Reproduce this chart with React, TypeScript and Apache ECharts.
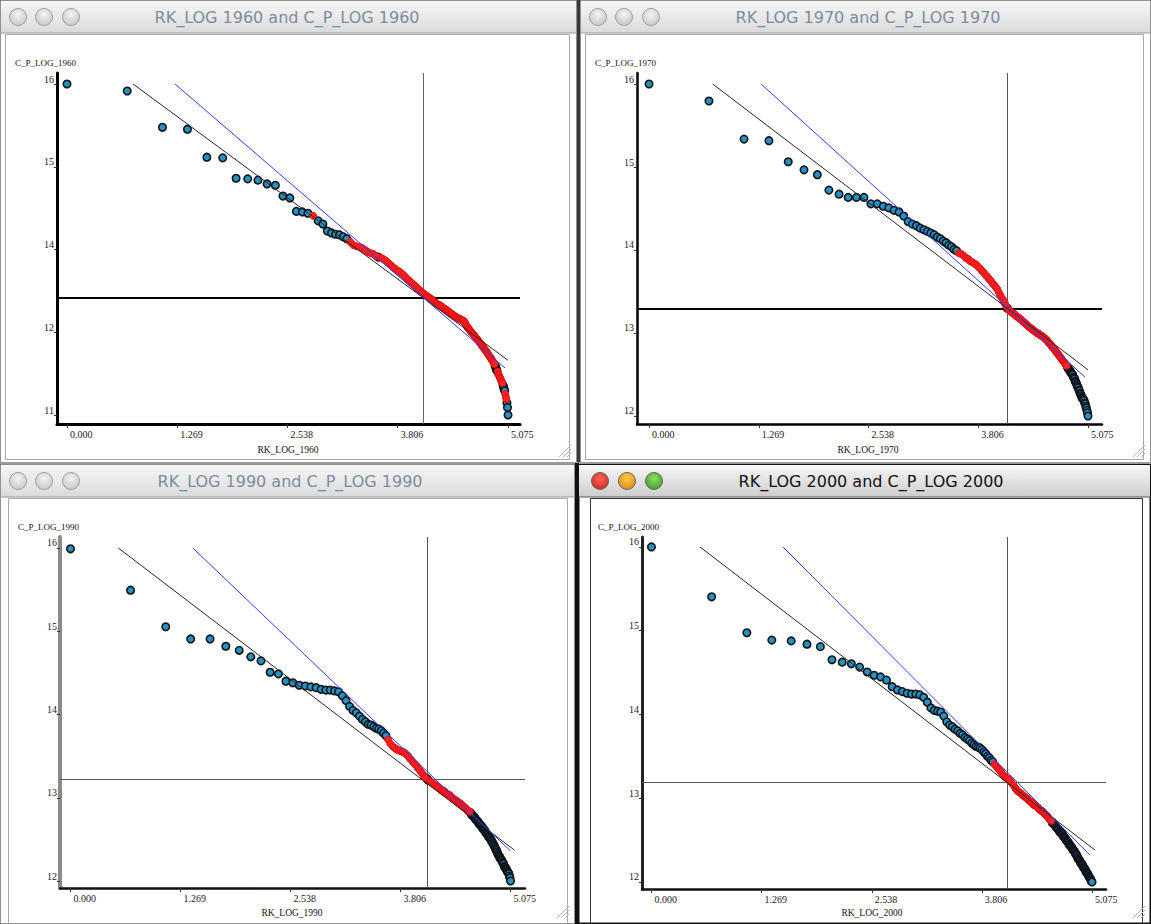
import React, { useEffect, useRef } from "react";
import * as echarts from "echarts";

// ---------- DATA ----------
// C_P_LOG values by city rank (rank 1..160); RK_LOG = ln(rank)
const cpLog1960 = [
  16.15, 16.04, 15.47, 15.44, 15.0, 14.99, 14.67, 14.66, 14.64, 14.58,
  14.56, 14.39, 14.36, 14.15, 14.14, 14.12, 14.08, 14.0, 13.95, 13.84,
  13.81, 13.79, 13.78, 13.75, 13.72, 13.67, 13.62, 13.6, 13.59, 13.57,
  13.54, 13.51, 13.49, 13.48, 13.45, 13.43, 13.42, 13.4, 13.38, 13.35,
  13.32, 13.29, 13.26, 13.24, 13.21, 13.2, 13.17, 13.15, 13.12, 13.09,
  13.07, 13.04, 13.02, 12.99, 12.98, 12.94, 12.93, 12.91, 12.88, 12.87,
  12.85, 12.83, 12.82, 12.8, 12.79, 12.77, 12.76, 12.74, 12.72, 12.71,
  12.69, 12.68, 12.67, 12.66, 12.65, 12.63, 12.62, 12.61, 12.6, 12.58,
  12.57, 12.55, 12.54, 12.54, 12.52, 12.51, 12.5, 12.49, 12.48, 12.47,
  12.46, 12.46, 12.45, 12.44, 12.43, 12.43, 12.41, 12.39, 12.36, 12.33,
  12.32, 12.3, 12.28, 12.27, 12.25, 12.24, 12.22, 12.21, 12.19, 12.17,
  12.16, 12.14, 12.13, 12.11, 12.1, 12.08, 12.07, 12.05, 12.03, 12.02,
  12.0, 11.99, 11.97, 11.96, 11.94, 11.93, 11.91, 11.89, 11.88, 11.86,
  11.85, 11.83, 11.81, 11.8, 11.78, 11.77, 11.75, 11.72, 11.7, 11.67,
  11.64, 11.63, 11.59, 11.58, 11.55, 11.53, 11.52, 11.48, 11.47, 11.45,
  11.42, 11.39, 11.36, 11.33, 11.28, 11.23, 11.2, 11.14, 11.07, 10.95,
];
const cpLog1970 = [
  16.05, 15.84, 15.37, 15.35, 15.09, 14.99, 14.93, 14.74, 14.69, 14.65,
  14.65, 14.65, 14.57, 14.57, 14.54, 14.52, 14.49, 14.47, 14.42, 14.35,
  14.32, 14.3, 14.27, 14.25, 14.23, 14.21, 14.19, 14.16, 14.14, 14.11,
  14.09, 14.06, 14.04, 14.01, 13.99, 13.96, 13.95, 13.93, 13.9, 13.89,
  13.86, 13.85, 13.83, 13.82, 13.79, 13.77, 13.74, 13.72, 13.69, 13.67,
  13.64, 13.62, 13.59, 13.57, 13.54, 13.52, 13.48, 13.44, 13.41, 13.38,
  13.35, 13.31, 13.28, 13.26, 13.25, 13.23, 13.22, 13.21, 13.2, 13.18,
  13.17, 13.16, 13.15, 13.14, 13.12, 13.11, 13.1, 13.09, 13.07, 13.06,
  13.05, 13.04, 13.03, 13.02, 13.01, 13.0, 12.99, 12.98, 12.97, 12.97,
  12.96, 12.95, 12.94, 12.94, 12.93, 12.92, 12.91, 12.9, 12.89, 12.88,
  12.86, 12.85, 12.84, 12.83, 12.81, 12.8, 12.79, 12.78, 12.77, 12.75,
  12.74, 12.73, 12.72, 12.7, 12.69, 12.68, 12.67, 12.65, 12.64, 12.63,
  12.62, 12.61, 12.59, 12.58, 12.57, 12.56, 12.54, 12.53, 12.52, 12.51,
  12.49, 12.48, 12.47, 12.46, 12.43, 12.42, 12.41, 12.38, 12.37, 12.35,
  12.33, 12.31, 12.3, 12.27, 12.26, 12.23, 12.22, 12.2, 12.18, 12.17,
  12.16, 12.15, 12.14, 12.11, 12.1, 12.07, 12.05, 12.02, 11.99, 11.95,
];
const cpLog1990 = [
  16.04, 15.53, 15.08, 14.93, 14.93, 14.84, 14.79, 14.71, 14.66, 14.52,
  14.5, 14.41, 14.39, 14.36, 14.35, 14.34, 14.33, 14.31, 14.3, 14.3,
  14.29, 14.28, 14.23, 14.17, 14.1, 14.05, 14.02, 13.98, 13.94, 13.91,
  13.88, 13.87, 13.85, 13.83, 13.82, 13.8, 13.77, 13.74, 13.69, 13.64,
  13.61, 13.59, 13.57, 13.56, 13.55, 13.54, 13.53, 13.51, 13.49, 13.46,
  13.44, 13.41, 13.39, 13.37, 13.34, 13.32, 13.29, 13.27, 13.24, 13.22,
  13.21, 13.19, 13.18, 13.17, 13.16, 13.14, 13.13, 13.12, 13.11, 13.1,
  13.08, 13.07, 13.06, 13.06, 13.05, 13.03, 13.02, 13.01, 13.01, 13.0,
  12.98, 12.97, 12.96, 12.95, 12.94, 12.94, 12.92, 12.91, 12.91, 12.9,
  12.89, 12.87, 12.87, 12.86, 12.85, 12.84, 12.82, 12.81, 12.81, 12.8,
  12.79, 12.77, 12.76, 12.75, 12.74, 12.73, 12.71, 12.7, 12.69, 12.68,
  12.66, 12.65, 12.64, 12.63, 12.62, 12.6, 12.59, 12.58, 12.57, 12.55,
  12.54, 12.53, 12.52, 12.5, 12.49, 12.48, 12.47, 12.45, 12.44, 12.42,
  12.41, 12.39, 12.38, 12.36, 12.34, 12.33, 12.31, 12.29, 12.27, 12.26,
  12.25, 12.23, 12.22, 12.21, 12.2, 12.18, 12.17, 12.16, 12.13, 12.12,
  12.11, 12.1, 12.09, 12.07, 12.06, 12.05, 12.04, 12.01, 11.99, 11.95,
];
const cpLog2000 = [
  16.05, 15.44, 15.0, 14.91, 14.9, 14.86, 14.83, 14.67, 14.64, 14.62,
  14.58, 14.52, 14.48, 14.46, 14.42, 14.34, 14.3, 14.28, 14.26, 14.25,
  14.25, 14.24, 14.21, 14.15, 14.08, 14.05, 14.04, 14.03, 13.98, 13.91,
  13.87, 13.85, 13.82, 13.8, 13.77, 13.75, 13.72, 13.7, 13.68, 13.65,
  13.63, 13.61, 13.6, 13.59, 13.57, 13.54, 13.52, 13.49, 13.47, 13.44,
  13.42, 13.39, 13.37, 13.34, 13.32, 13.3, 13.27, 13.25, 13.23, 13.22,
  13.21, 13.2, 13.17, 13.15, 13.13, 13.1, 13.08, 13.06, 13.05, 13.04,
  13.03, 13.01, 13.0, 12.99, 12.98, 12.97, 12.95, 12.94, 12.93, 12.92,
  12.9, 12.89, 12.89, 12.88, 12.87, 12.86, 12.84, 12.83, 12.82, 12.82,
  12.81, 12.79, 12.78, 12.77, 12.76, 12.75, 12.73, 12.72, 12.71, 12.7,
  12.68, 12.67, 12.66, 12.65, 12.64, 12.62, 12.61, 12.6, 12.59, 12.57,
  12.56, 12.55, 12.54, 12.53, 12.51, 12.5, 12.49, 12.48, 12.46, 12.45,
  12.44, 12.43, 12.41, 12.4, 12.39, 12.38, 12.37, 12.35, 12.34, 12.33,
  12.32, 12.3, 12.29, 12.28, 12.26, 12.24, 12.23, 12.22, 12.21, 12.19,
  12.18, 12.17, 12.16, 12.15, 12.13, 12.12, 12.11, 12.1, 12.08, 12.07,
  12.06, 12.05, 12.04, 12.02, 12.01, 12.0, 11.99, 11.97, 11.96, 11.95,
];

// highlighted (red) rank ranges
const selected1960 = [[17, 17], [26, 35], [37, 137], [142, 150], [155, 157]];
const selected1970 = [[36, 62], [64, 125]];
const selected1990 = [[39, 60], [63, 100]];
const selected2000 = [[52, 100]];

// regression lines: all points (black) and highlighted points (blue)
const fitAll1960 = [[0.76, 16.15], [5.075, 11.81]];
const fitSel1960 = [[1.243, 16.15], [5.04, 11.69]];
const fitAll1970 = [[0.736, 16.05], [5.075, 12.52]];
const fitSel1970 = [[1.295, 16.05], [5.04, 12.43]];
const fitAll1990 = [[0.551, 16.05], [5.12, 12.33]];
const fitSel1990 = [[1.41, 16.05], [5.075, 12.32]];
const fitAll2000 = [[0.559, 16.05], [5.11, 12.34]];
const fitSel2000 = [[1.515, 16.05], [5.05, 12.28]];

// cross-hair position (RK_LOG, C_P_LOG)
const crossX = [4.097, 4.139, 4.11, 4.096];
const crossY = [12.79, 13.28, 13.2, 13.17];

// tick values
const xTicks = [0, 1.269, 2.538, 3.806, 5.075];
const yTicks1960 = [10.95, 12.25, 13.55, 14.85, 16.15];
const yTicksLater = [11.95, 12.975, 14.0, 15.025, 16.05];

const years = ["1960", "1970", "1990", "2000"];

// ---------- LAYOUT / STYLE ----------
const panels = [
  {
    values: cpLog1960, sel: selected1960, fitAll: fitAll1960, fitSel: fitSel1960, yTicks: yTicks1960,
    grid: { left: 57, top: 73, width: 463, height: 351 }, xr: [-0.115, 5.213], yr: [10.809, 16.323],
    yAxisColor: "#000", yAxisW: 3, xAxisColor: "#000", xAxisW: 3, hColor: "#000", hW: 2, vColor: "#666", vW: 1,
    yName: [15, 63], xName: [288, 450],
  },
  {
    values: cpLog1970, sel: selected1970, fitAll: fitAll1970, fitSel: fitSel1970, yTicks: yTicksLater,
    grid: { left: 637, top: 73, width: 465, height: 351 }, xr: [-0.139, 5.237], yr: [11.851, 16.186],
    yAxisColor: "#000", yAxisW: 2.5, xAxisColor: "#000", xAxisW: 2.5, hColor: "#000", hW: 2, vColor: "#555", vW: 1,
    yName: [595, 63], xName: [868, 450],
  },
  {
    values: cpLog1990, sel: selected1990, fitAll: fitAll1990, fitSel: fitSel1990, yTicks: yTicksLater,
    grid: { left: 60, top: 537, width: 465, height: 351 }, xr: [-0.121, 5.242], yr: [11.864, 16.185],
    yAxisColor: "#8a8a8a", yAxisW: 4, xAxisColor: "#111", xAxisW: 2.5, hColor: "#555", hW: 1, vColor: "#555", vW: 1,
    yName: [18, 527], xName: [292, 913],
  },
  {
    values: cpLog2000, sel: selected2000, fitAll: fitAll2000, fitSel: fitSel2000, yTicks: yTicksLater,
    grid: { left: 642, top: 537, width: 464, height: 352 }, xr: [-0.109, 5.236], yr: [11.864, 16.172],
    yAxisColor: "#222", yAxisW: 3, xAxisColor: "#111", xAxisW: 2.5, hColor: "#555", hW: 1, vColor: "#555", vW: 1,
    yName: [598, 527], xName: [872, 913],
  },
];

const windows = [
  { x: 0, y: 0, w: 577, h: 463, tx: 287, active: false, frame: [5, 34, 564, 425] },
  { x: 580, y: 0, w: 571, h: 463, tx: 868, active: false, frame: [585, 34, 558, 425] },
  { x: 0, y: 464, w: 575, h: 460, tx: 290, active: false, frame: [8, 498, 559, 426] },
  { x: 578, y: 464, w: 573, h: 460, tx: 871, active: true, frame: [590, 498, 552, 426] },
];

const serif = "'Liberation Serif', 'DejaVu Serif', serif";

function inSel(rank: number, sel: number[][]) {
  return sel.some((r) => rank >= r[0] && rank <= r[1]);
}

function buildChrome() {
  const els: any[] = [];
  windows.forEach((w, i) => {
    const title = `RK_LOG ${years[i]} and C_P_LOG ${years[i]}`;
    els.push({
      type: "rect", z: 0,
      shape: { x: w.x, y: w.y, width: w.w, height: w.h },
      style: { fill: "#ffffff", stroke: w.active ? "#111" : "#6e6e6e", lineWidth: w.active ? 3 : 1.5 },
    });
    els.push({
      type: "rect", z: 1,
      shape: { x: w.x + 1, y: w.y + 1, width: w.w - 2, height: 32 },
      style: {
        fill: new echarts.graphic.LinearGradient(0, 0, 0, 1, [
          { offset: 0, color: "#f7f7f7" },
          { offset: 1, color: w.active ? "#cdcdcd" : "#dadada" },
        ]),
      },
    });
    els.push({
      type: "line", z: 2,
      shape: { x1: w.x, y1: w.y + 33, x2: w.x + w.w, y2: w.y + 33 },
      style: { stroke: w.active ? "#555" : "#9a9a9a", lineWidth: 1 },
    });
    const bx = w.active ? [w.x + 22, w.x + 49, w.x + 76] : [w.x + 18, w.x + 44, w.x + 71];
    const colors = w.active
      ? [["#ff6a5c", "#c8221a"], ["#ffc84a", "#d68a10"], ["#8ee06a", "#3c9a22"]]
      : [["#f4f4f4", "#c4c4c4"], ["#f4f4f4", "#c4c4c4"], ["#f4f4f4", "#c4c4c4"]];
    bx.forEach((cx, k) => {
      els.push({
        type: "circle", z: 2,
        shape: { cx, cy: w.y + 17, r: 8.5 },
        style: {
          fill: new echarts.graphic.RadialGradient(0.5, 0.35, 0.7, [
            { offset: 0, color: colors[k][0] },
            { offset: 1, color: colors[k][1] },
          ]),
          stroke: w.active ? "#6a6a6a" : "#a0a0a0",
          lineWidth: 1,
        },
      });
    });
    els.push({
      type: "text", z: 3, x: w.tx, y: w.y + 17,
      style: {
        text: title, fill: w.active ? "#111" : "#7d8da0",
        font: "16px 'DejaVu Sans', sans-serif", textAlign: "center", textVerticalAlign: "middle",
      },
    });
    els.push({
      type: "rect", z: 1,
      shape: { x: w.frame[0] + 0.5, y: w.frame[1] + 0.5, width: w.frame[2], height: w.frame[3] },
      style: { fill: "none", stroke: w.active ? "#333" : "#a8a8a8", lineWidth: 1 },
    });
    // resize grip
    const gx = w.x + w.w - 6;
    const gy = w.y + w.h - 6;
    [4, 8, 12].forEach((d) => {
      els.push({
        type: "line", z: 2,
        shape: { x1: gx - d, y1: gy, x2: gx, y2: gy - d },
        style: { stroke: "#b4b4b4", lineWidth: 1 },
      });
    });
  });
  // dark seams between windows
  els.push({ type: "rect", z: 2, shape: { x: 577, y: 0, width: 3, height: 463 }, style: { fill: "#3a3a3a" } });
  els.push({ type: "rect", z: 2, shape: { x: 0, y: 462, width: 1151, height: 2 }, style: { fill: "#9a9a9a" } });
  els.push({ type: "rect", z: 2, shape: { x: 575, y: 463, width: 4, height: 461 }, style: { fill: "#111" } });

  // axis titles
  panels.forEach((p, i) => {
    els.push({
      type: "text", z: 3, x: p.yName[0], y: p.yName[1],
      style: { text: `C_P_LOG_${years[i]}`, fill: "#111", font: `9px ${serif}`, textAlign: "left", textVerticalAlign: "middle" },
    });
    els.push({
      type: "text", z: 3, x: p.xName[0], y: p.xName[1],
      style: { text: `RK_LOG_${years[i]}`, fill: "#111", font: `9.5px ${serif}`, textAlign: "center", textVerticalAlign: "middle" },
    });
  });
  return els;
}

function buildOption() {
  const grid: any[] = [];
  const xAxis: any[] = [];
  const yAxis: any[] = [];
  const series: any[] = [];
  panels.forEach((p, i) => {
    grid.push({ ...p.grid, containLabel: false });
    xAxis.push({
      gridIndex: i, type: "value", min: p.xr[0], max: p.xr[1], z: 20,
      axisLine: { show: true, onZero: false, lineStyle: { color: p.xAxisColor, width: p.xAxisW } },
      axisTick: { show: true, length: 4, customValues: xTicks, lineStyle: { color: "#333", width: 1 } },
      axisLabel: {
        customValues: xTicks, formatter: (v: number) => v.toFixed(3), align: "left", margin: 5,
        padding: [0, 0, 0, 3], fontFamily: serif, fontSize: 10, color: "#222",
      },
      splitLine: { show: false },
    });
    yAxis.push({
      gridIndex: i, type: "value", min: p.yr[0], max: p.yr[1], z: 20,
      axisLine: { show: true, onZero: false, lineStyle: { color: p.yAxisColor, width: p.yAxisW } },
      axisTick: { show: true, length: 3, customValues: p.yTicks, lineStyle: { color: "#333", width: 1 } },
      axisLabel: {
        customValues: p.yTicks, formatter: (v: number) => String(Math.round(v)), verticalAlign: "bottom",
        margin: 3, fontFamily: serif, fontSize: 10, color: "#222",
      },
      splitLine: { show: false },
    });
    const normal: number[][] = [];
    const picked: number[][] = [];
    p.values.forEach((v, k) => {
      const rank = k + 1;
      const pt = [Math.log(rank), v];
      if (inSel(rank, p.sel)) picked.push(pt);
      else normal.push(pt);
    });
    series.push({
      type: "scatter", xAxisIndex: i, yAxisIndex: i, data: normal, symbol: "circle", symbolSize: 7.5, z: 30,
      itemStyle: { color: "#2592c4", borderColor: "#101418", borderWidth: 1.6, opacity: 1 },
      silent: true,
    });
    series.push({
      type: "scatter", xAxisIndex: i, yAxisIndex: i, data: picked, symbol: "circle", symbolSize: 7, z: 31,
      itemStyle: { color: "#ff2424", borderColor: "#e01010", borderWidth: 1, opacity: 1 },
      silent: true,
    });
    series.push({
      type: "line", xAxisIndex: i, yAxisIndex: i, data: p.fitAll, symbol: "none", z: 33, silent: true,
      lineStyle: { color: "#262626", width: 1 },
      markLine: {
        silent: true, symbol: "none", label: { show: false }, z: 25,
        data: [
          { xAxis: crossX[i], lineStyle: { color: p.vColor, width: p.vW, type: "solid" } },
          { yAxis: crossY[i], lineStyle: { color: p.hColor, width: p.hW, type: "solid" } },
        ],
      },
    });
    series.push({
      type: "line", xAxisIndex: i, yAxisIndex: i, data: p.fitSel, symbol: "none", z: 34, silent: true,
      lineStyle: { color: "#2e3cff", width: 1 },
    });
  });
  return {
    animation: false,
    backgroundColor: "#c8c8c8",
    grid, xAxis, yAxis, series,
    graphic: { elements: buildChrome() },
  };
}

export default function App() {
  const ref = useRef<HTMLDivElement>(null);
  useEffect(() => {
    const chart = echarts.init(ref.current as HTMLDivElement, null, { renderer: "svg" });
    chart.setOption(buildOption() as any);
    return () => chart.dispose();
  }, []);
  return (
    <div
      ref={ref}
      style={{ position: "fixed", left: 0, top: 0, width: 1151, height: 924 }}
    />
  );
}
